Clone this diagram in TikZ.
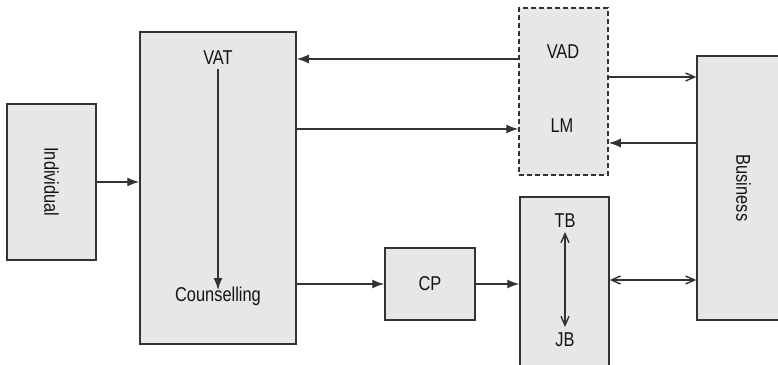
\documentclass[tikz,border=0pt]{standalone}
\usepackage{fontspec}
\setmainfont[FakeStretch=0.82]{Liberation Sans}
\usetikzlibrary{arrows.meta}
\definecolor{boxfill}{HTML}{E6E7E8}
\definecolor{boxline}{HTML}{333333}
\begin{document}
\begin{tikzpicture}[x=1pt,y=-1pt,
  box/.style={draw=boxline,fill=boxfill,line width=1.5pt,inner sep=0pt,
    minimum width=#1},
  lbl/.style={font=\fontsize{20}{24}\selectfont,text=black!92,inner sep=0pt},
  conn/.style={draw=boxline,line width=1.4pt},
  solidtip/.style={conn,-{Latex[length=12pt,width=9pt]}},
  opentip/.style={conn,-{Straight Barb[length=9pt,width=8pt]}},
  bothtip/.style={conn,{Straight Barb[length=9pt,width=8pt]}-{Straight Barb[length=9pt,width=8pt]}}]
\useasboundingbox (0,0) rectangle (778,364);
\clip (0,0) rectangle (778,364);
\fill[white] (0,0) rectangle (778,364);

% blocks
\node[box=89pt,minimum height=156pt] (indiv) at (51.5,182) {};
\node[box=156pt,minimum height=312pt] (main) at (218,188) {};
\node[box=89pt,minimum height=167pt,dash pattern=on 5pt off 3pt] (lab) at (563.5,91.5) {};
\node[box=93pt,minimum height=264pt] (biz) at (743.5,188) {};
\node[box=90pt,minimum height=72pt] (cp) at (430,284) {};
\node[box=89pt,minimum height=178pt] (jobs) at (564.5,286) {};

% texts
\node[lbl,rotate=-90] (indivtxt) at (indiv.center) {Individual};
\node[lbl,rotate=-90] (biztxt) at (biz.center) {Business};
\node[lbl] (vat) at (218,58) {VAT};
\node[lbl] (couns) at (218,296) {Counselling};
\node[lbl] (vad) at (563,52) {VAD};
\node[lbl] (lm) at (562,126) {LM};
\node[lbl] (cptxt) at (cp.center) {CP};
\node[lbl] (tb) at (565,221) {TB};
\node[lbl] (jb) at (565,340) {JB};

% connectors
\draw[solidtip] (218,69) -- (218,290);
\draw[solidtip] (indiv.east) -- (main.west |- indiv.east);
\draw[solidtip] (lab.west |- 0,59) -- (main.east |- 0,59);
\draw[solidtip] (main.east |- 0,129) -- (lab.west |- 0,129);
\draw[opentip] (lab.east |- 0,77) -- (biz.west |- 0,77);
\draw[solidtip] (biz.west |- 0,143) -- (lab.east |- 0,143);
\draw[solidtip] (main.east |- cp.west) -- (cp.west);
\draw[solidtip] (cp.east) -- (jobs.west |- cp.east);
\draw[bothtip] (565,232) -- (565,327);
\draw[bothtip] (jobs.east |- 0,280) -- (biz.west |- 0,280);
\end{tikzpicture}
\end{document}
